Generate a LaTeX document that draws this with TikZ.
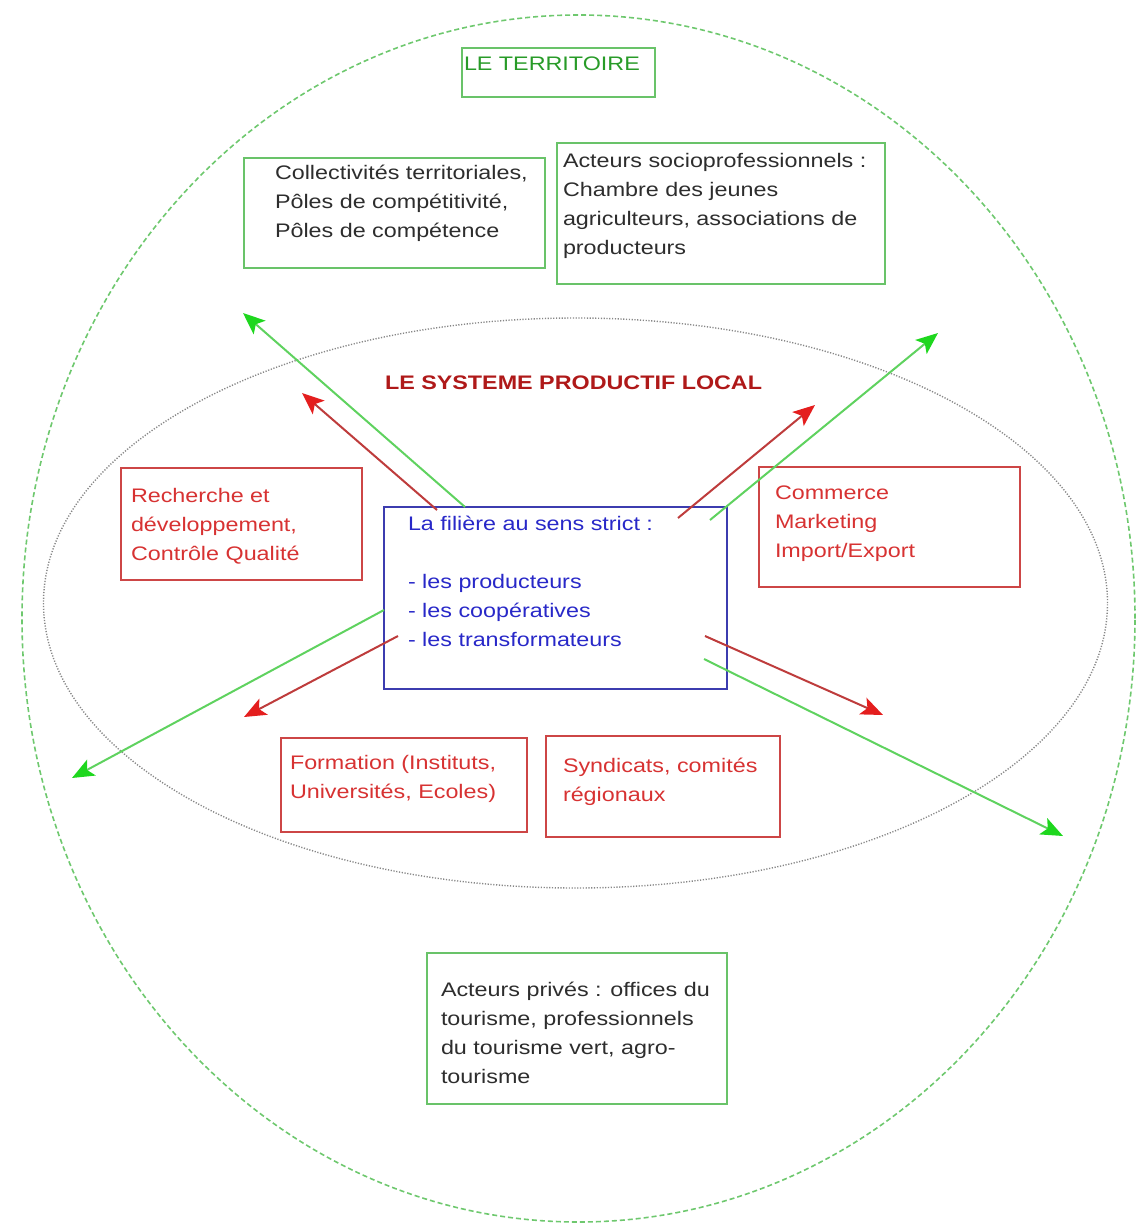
\documentclass[tikz,border=0pt]{standalone}
\usepackage{fontspec}
\setmainfont{Liberation Sans}[FakeStretch=1.19]
\usetikzlibrary{arrows.meta}
\definecolor{outergreen}{RGB}{110,200,110}
\definecolor{innergray}{RGB}{135,135,135}
\definecolor{boxgreen}{RGB}{105,195,105}
\definecolor{boxred}{RGB}{205,70,70}
\definecolor{boxblue}{RGB}{60,60,175}
\definecolor{txtgreen}{RGB}{40,155,40}
\definecolor{txtred}{RGB}{215,50,50}
\definecolor{txtblue}{RGB}{40,40,200}
\definecolor{txtdark}{RGB}{45,45,45}
\definecolor{sysred}{RGB}{175,25,25}
\definecolor{lgreen}{RGB}{95,210,95}
\definecolor{hgreen}{RGB}{30,215,30}
\definecolor{lred}{RGB}{190,60,60}
\definecolor{hred}{RGB}{228,30,30}
\begin{document}
\begin{tikzpicture}[x=0.5pt,y=-0.5pt,
  gbox/.style={draw=boxgreen, line width=1pt, rectangle, inner sep=0pt, outer sep=0pt, anchor=north west},
  rbox/.style={draw=boxred, line width=1pt, rectangle, inner sep=0pt, outer sep=0pt, anchor=north west},
  bbox/.style={draw=boxblue, line width=1pt, rectangle, inner sep=0pt, outer sep=0pt, anchor=north west},
  txt/.style={inner sep=0pt, outer sep=0pt, anchor=north west, align=left,
    font=\fontsize{9.8}{14.5}\selectfont, execute at begin node=\strut},
  garrow/.style={draw=lgreen, line width=1pt, -{Stealth[length=11pt,width=9pt,inset=2.5pt,color=hgreen]}},
  rarrow/.style={draw=lred, line width=1pt, -{Stealth[length=11pt,width=9pt,inset=2.5pt,color=hred]}}
]
\useasboundingbox (0,0) rectangle (1137,1225);

% ellipses
\draw[outergreen, line width=0.8pt, dash pattern=on 2.5pt off 1.5pt]
  (578.5,618.5) ellipse [x radius=278.25pt, y radius=301.75pt];
\draw[innergray, line width=0.7pt, dash pattern=on 0.6pt off 0.8pt]
  (575.5,603) ellipse [x radius=266pt, y radius=142.5pt];

% boxes
\node[gbox, minimum width=96.5pt, minimum height=24.5pt] (terr) at (462,48) {};
\node[gbox, minimum width=150.5pt, minimum height=55pt] (coll) at (244,158) {};
\node[gbox, minimum width=164pt, minimum height=70.5pt] (socio) at (557,143) {};
\node[rbox, minimum width=120.5pt, minimum height=56pt] (rech) at (121,468) {};
\node[bbox, minimum width=171.5pt, minimum height=91pt] (fil) at (384,507) {};
\node[rbox, minimum width=130.5pt, minimum height=60pt] (comm) at (759,467) {};
\node[rbox, minimum width=123pt, minimum height=47pt] (form) at (281,738) {};
\node[rbox, minimum width=117pt, minimum height=50.5pt] (synd) at (546,736) {};
\node[gbox, minimum width=150pt, minimum height=75.5pt] (priv) at (427,953) {};

% texts
\node[txt, text=txtgreen] (terrt) at (464,50) {LE TERRITOIRE};
\node[txt, text=txtdark] (collt) at (275,165) {Collectivités territoriales,\\Pôles de compétitivité,\\Pôles de compétence};
\node[txt, text=txtdark] (sociot) at (563,153) {Acteurs socioprofessionnels :\\Chambre des jeunes\\agriculteurs, associations de\\producteurs};
\node[inner sep=0pt, outer sep=0pt, anchor=base west, text=sysred,
  font=\fontsize{9.8}{14.5}\selectfont\bfseries] (spl) at (385,389) {LE SYSTEME PRODUCTIF LOCAL};
\node[txt, text=txtred] (recht) at (131,488) {Recherche et\\développement,\\Contrôle Qualité};
\node[txt, text=txtblue] (filt) at (408,516) {La filière au sens strict :\\[14.5pt]- les producteurs\\- les coopératives\\- les transformateurs};
\node[txt, text=txtred] (commt) at (775,486) {Commerce\\Marketing\\Import/Export};
\node[txt, text=txtred] (formt) at (290,755) {Formation (Instituts,\\Universités, Ecoles)};
\node[txt, text=txtred] (syndt) at (563,758) {Syndicats, comités\\régionaux};
\node[txt, text=txtdark] (privt) at (441,982) {Acteurs privés : offices du\\tourisme, professionnels\\du tourisme vert, agro-\\tourisme};

% arrow end points
\coordinate (g1s) at (465,507); \coordinate (g1e) at (243,313);
\coordinate (r1s) at (437,510); \coordinate (r1e) at (302,393);
\coordinate (r2s) at (678,518); \coordinate (r2e) at (815,405);
\coordinate (g2s) at (710,520); \coordinate (g2e) at (938,333);
\coordinate (g3s) at (384,610); \coordinate (g3e) at (72,778);
\coordinate (r3s) at (398,636); \coordinate (r3e) at (244,717);
\coordinate (r4s) at (705,636); \coordinate (r4e) at (883,715);
\coordinate (g4s) at (704,659); \coordinate (g4e) at (1063,836);

\draw[garrow] (g1s) -- (g1e);
\draw[rarrow] (r1s) -- (r1e);
\draw[rarrow] (r2s) -- (r2e);
\draw[garrow] (g2s) -- (g2e);
\draw[garrow] (g3s) -- (g3e);
\draw[rarrow] (r3s) -- (r3e);
\draw[rarrow] (r4s) -- (r4e);
\draw[garrow] (g4s) -- (g4e);
\end{tikzpicture}
\end{document}
